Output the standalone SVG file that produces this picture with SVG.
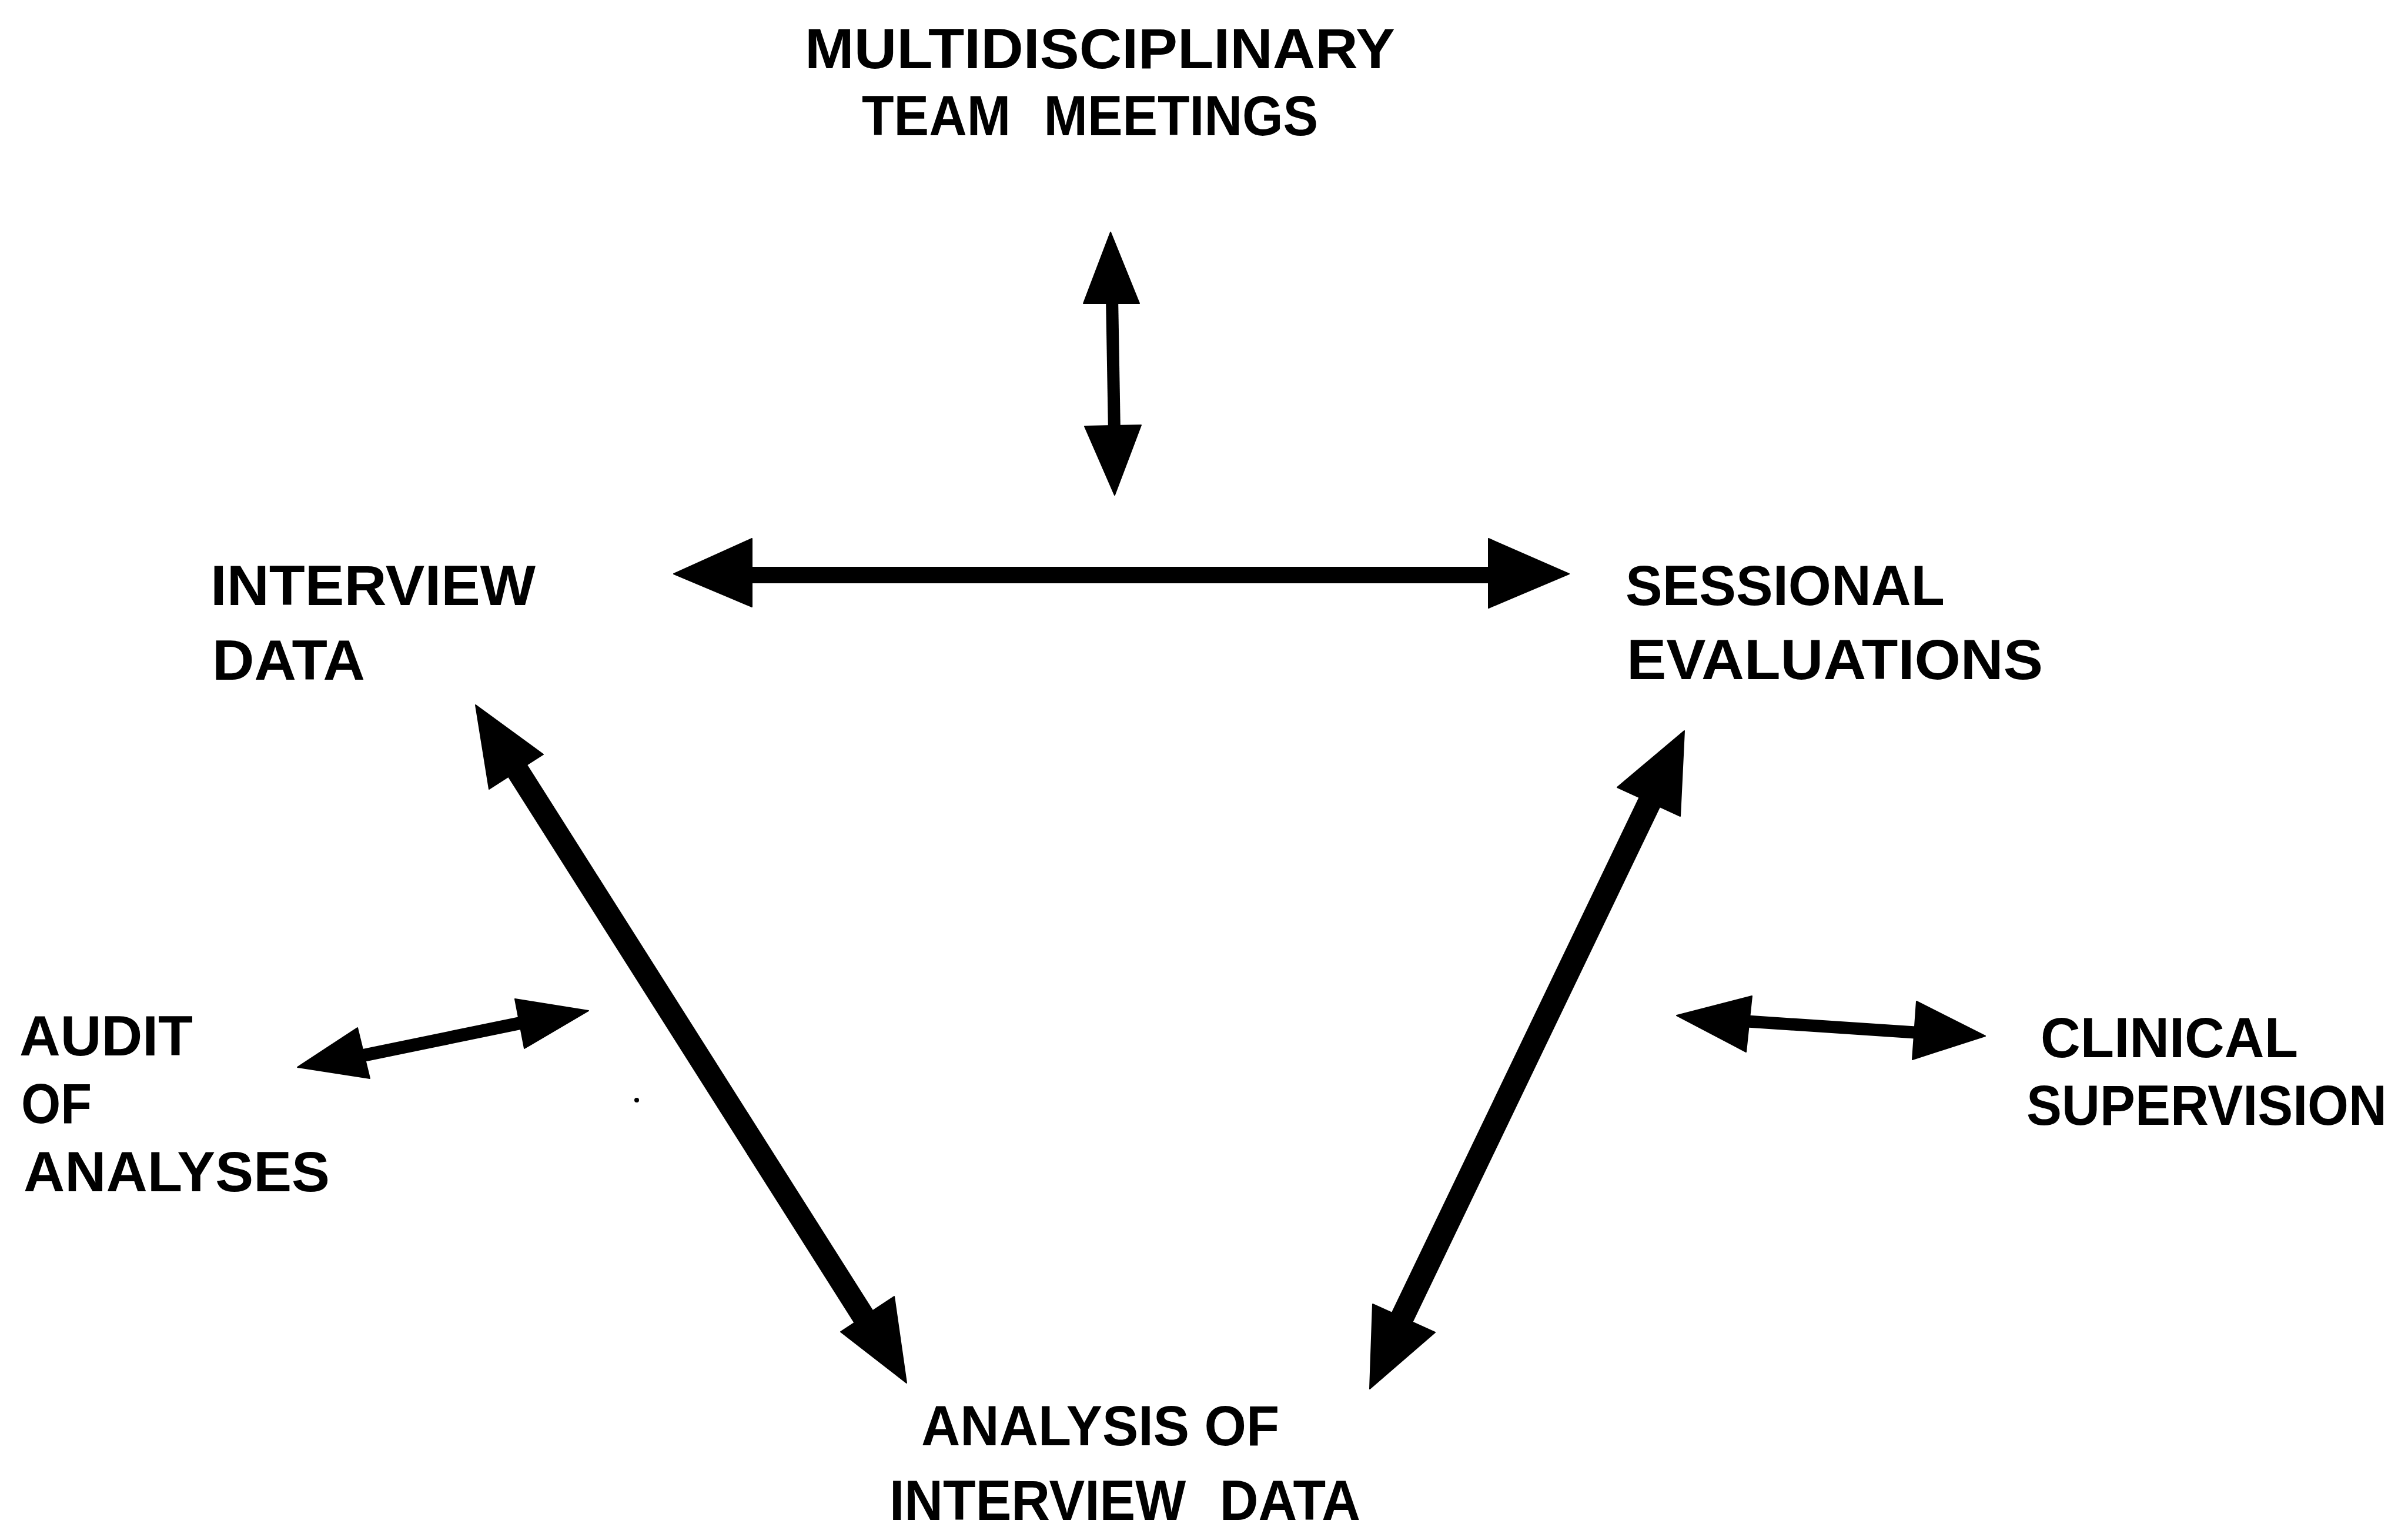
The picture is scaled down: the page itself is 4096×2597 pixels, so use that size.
<svg xmlns="http://www.w3.org/2000/svg" width="4096" height="2597" viewBox="0 0 4096 2597">
  <style>
    .lbl { font-family: "Liberation Sans", Arial, Helvetica, sans-serif; font-weight: bold; font-size: 96px; fill: #000; }
    .wide { word-spacing: 34px; }
    .shaft { stroke: #000; stroke-linecap: butt; fill: none; }
    .head { fill: #000; stroke: #000; stroke-width: 2; stroke-linejoin: round; }
  </style>
  <rect x="0" y="0" width="4096" height="2597" fill="#fff"/>

  <!-- connectors: double-headed arrows -->
  <g id="connectors">
    <!-- team meetings <-> main horizontal link -->
    <g id="c-team">
      <line class="shaft" x1="1891.5" y1="505" x2="1895.5" y2="735" stroke-width="21"/>
      <polygon class="head" points="1889,395 1938,516 1843,516"/>
      <polygon class="head" points="1845,725 1941,723 1896,842"/>
    </g>
    <!-- interview data <-> sessional evaluations -->
    <g id="c-interview-sessional">
      <line class="shaft" x1="1270" y1="978" x2="2540" y2="978" stroke-width="28"/>
      <polygon class="head" points="1146,976 1279,916 1279,1032"/>
      <polygon class="head" points="2532,916 2669,976 2532,1034"/>
    </g>
    <!-- interview data <-> analysis of interview data -->
    <g id="c-interview-analysis">
      <line class="shaft" x1="878" y1="1307" x2="1470" y2="2241" stroke-width="39"/>
      <polygon class="head" points="809,1199 924,1283 832,1342"/>
      <polygon class="head" points="1430,2265 1521,2205 1542,2352"/>
    </g>
    <!-- sessional evaluations <-> analysis of interview data -->
    <g id="c-sessional-analysis">
      <line class="shaft" x1="2806" y1="1364" x2="2383" y2="2245" stroke-width="40"/>
      <polygon class="head" points="2865,1243 2858,1388 2751,1339"/>
      <polygon class="head" points="2335,2218 2441,2266 2330,2362"/>
    </g>
    <!-- audit of analyses link -->
    <g id="c-audit">
      <line class="shaft" x1="618" y1="1795" x2="885" y2="1740" stroke-width="22"/>
      <polygon class="head" points="506,1815 608,1748 629,1834"/>
      <polygon class="head" points="876,1699 1001,1719 892,1783"/>
    </g>
    <!-- clinical supervision link -->
    <g id="c-clinical">
      <line class="shaft" x1="2972" y1="1737" x2="3258" y2="1756" stroke-width="21"/>
      <polygon class="head" points="2852,1727 2980,1694 2970,1789"/>
      <polygon class="head" points="3260,1703 3377,1762 3253,1802"/>
    </g>
  </g>

  <!-- stray ink speck -->
  <circle cx="1083" cy="1871" r="4" fill="#000"/>

  <!-- nodes -->
  <g id="n-team">
    <text class="lbl" x="1369" y="116" textLength="1004" lengthAdjust="spacingAndGlyphs">MULTIDISCIPLINARY</text>
    <text class="lbl wide" x="1466" y="230" textLength="776" lengthAdjust="spacingAndGlyphs">TEAM MEETINGS</text>
  </g>
  <g id="n-interview">
    <text class="lbl" x="358" y="1029" textLength="553" lengthAdjust="spacingAndGlyphs">INTERVIEW</text>
    <text class="lbl" x="361" y="1156" textLength="260" lengthAdjust="spacingAndGlyphs">DATA</text>
  </g>
  <g id="n-sessional">
    <text class="lbl" x="2765" y="1029" textLength="543" lengthAdjust="spacingAndGlyphs">SESSIONAL</text>
    <text class="lbl" x="2767" y="1155" textLength="708" lengthAdjust="spacingAndGlyphs">EVALUATIONS</text>
  </g>
  <g id="n-audit">
    <text class="lbl" x="33" y="1795" textLength="295" lengthAdjust="spacingAndGlyphs">AUDIT</text>
    <text class="lbl" x="36" y="1910" textLength="120" lengthAdjust="spacingAndGlyphs">OF</text>
    <text class="lbl" x="40" y="2026" textLength="521" lengthAdjust="spacingAndGlyphs">ANALYSES</text>
  </g>
  <g id="n-clinical">
    <text class="lbl" x="3471" y="1798" textLength="438" lengthAdjust="spacingAndGlyphs">CLINICAL</text>
    <text class="lbl" x="3447" y="1913" textLength="613" lengthAdjust="spacingAndGlyphs">SUPERVISION</text>
  </g>
  <g id="n-analysis">
    <text class="lbl" x="1567" y="2458" textLength="609" lengthAdjust="spacingAndGlyphs">ANALYSIS OF</text>
    <text class="lbl wide" x="1513" y="2585" textLength="801" lengthAdjust="spacingAndGlyphs">INTERVIEW DATA</text>
  </g>
</svg>
